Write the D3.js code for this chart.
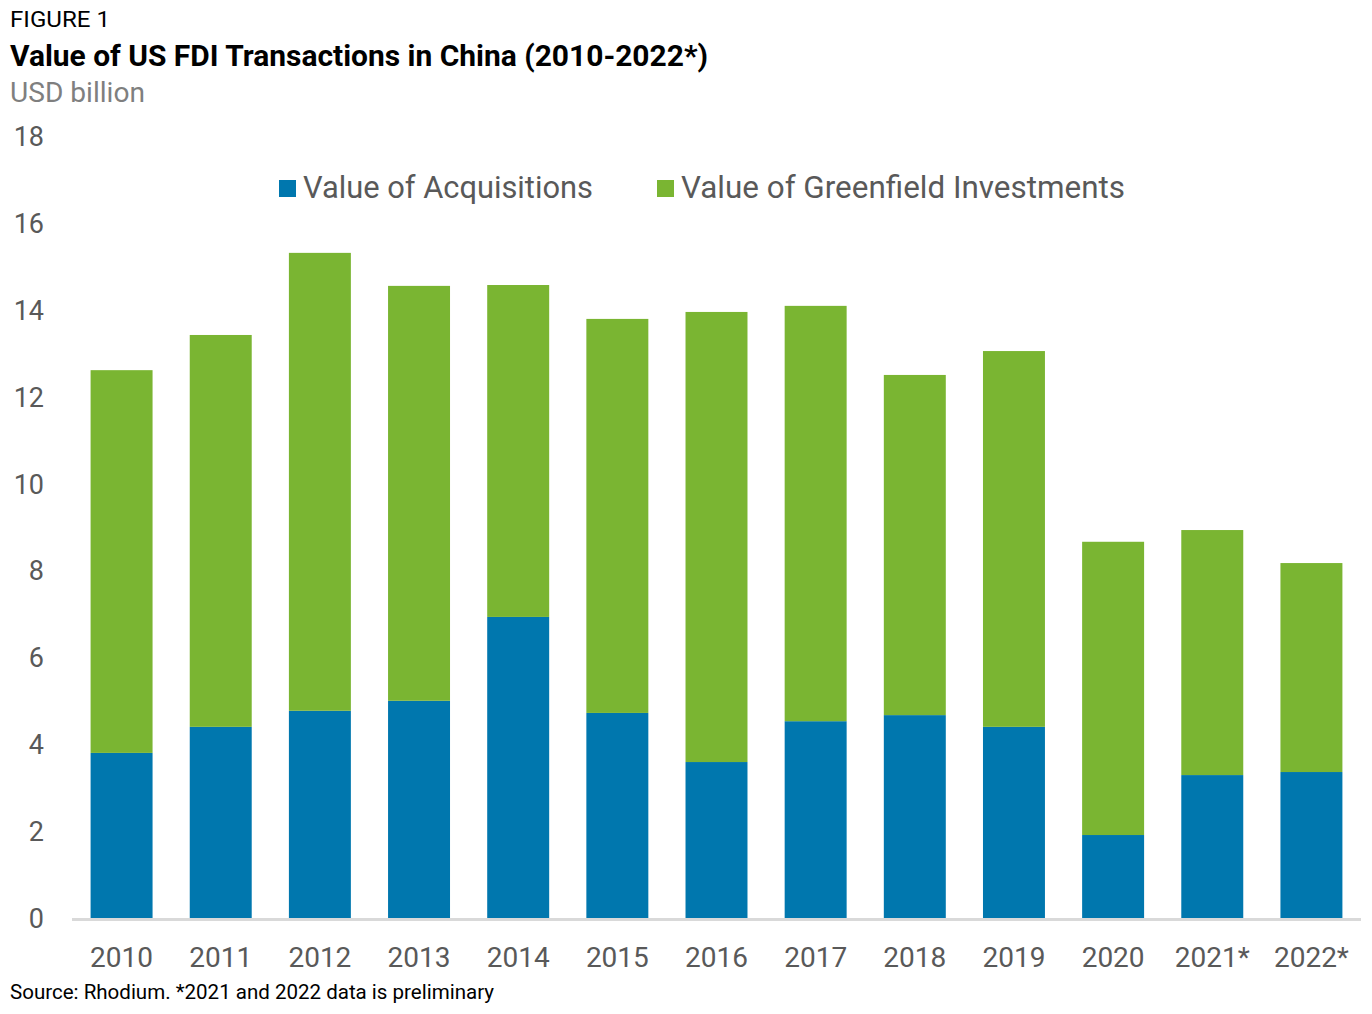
<!DOCTYPE html>
<html><head><meta charset="utf-8">
<script src="https://cdn.jsdelivr.net/npm/d3@7"></script>
<style>body{margin:0;background:#fff}svg{display:block}text{font-family:Roboto,"Noto Sans",sans-serif}</style>
</head><body>
<script>
const years = ["2010","2011","2012","2013","2014","2015","2016","2017","2018","2019","2020","2021*","2022*"];
const acquisitions = [3.80,4.40,4.77,5.00,6.93,4.72,3.59,4.53,4.67,4.40,1.91,3.29,3.36];
const greenfield = [8.81,9.02,10.54,9.55,7.64,9.07,10.36,9.56,7.83,8.65,6.75,5.64,4.81];
const seriesNames = ["Value of Acquisitions","Value of Greenfield Investments"];
const colors = ["#0077AE","#7AB532"];
const yTicks = [0,2,4,6,8,10,12,14,16,18];

const W=1372,H=1014;
const svg=d3.select("body").append("svg").attr("width",W).attr("height",H);

const x=d3.scaleBand().domain(years).range([72,1361]).paddingInner(0.375).paddingOuter(0.1875);
const y=d3.scaleLinear().domain([0,18]).range([918,136]);

const rows=years.map((yr,i)=>({year:yr,acq:acquisitions[i],green:greenfield[i]}));
const stack=d3.stack().keys(["acq","green"])(rows);

svg.append("g").selectAll("g").data(stack).join("g").attr("fill",(d,i)=>colors[i])
 .selectAll("rect").data(d=>d).join("rect")
 .attr("x",d=>x(d.data.year)).attr("width",x.bandwidth())
 .attr("y",d=>y(d[1])).attr("height",d=>y(d[0])-y(d[1]));

// x axis line
svg.append("line").attr("x1",72).attr("x2",1361).attr("y1",y(0)+1.5).attr("y2",y(0)+1.5)
 .attr("stroke","#d9d9d9").attr("stroke-width",3);

// y axis labels
const ya=d3.axisLeft(y).tickValues(yTicks).tickSize(0).tickPadding(0);
const yg=svg.append("g").attr("transform","translate(44,0)").call(ya);
yg.select(".domain").remove();
yg.selectAll("text").attr("font-size",27).attr("fill","#595959").attr("font-family","Roboto").attr("dy","0.35em");

// x axis labels
const xa=d3.axisBottom(x).tickSize(0).tickPadding(0);
const xg=svg.append("g").attr("transform","translate(0,957)").call(xa);
xg.select(".domain").remove();
xg.selectAll("text").attr("font-size",28).attr("fill","#595959").attr("font-family","Roboto").attr("dy","0.35em");

// titles
svg.append("text").attr("x",10).attr("y",27).attr("font-size",22).attr("fill","#000")
 .attr("textLength",100).attr("lengthAdjust","spacingAndGlyphs").text("FIGURE 1");
svg.append("text").attr("x",10).attr("y",66).attr("font-size",30).attr("font-weight","bold").attr("fill","#000")
 .attr("textLength",698).attr("lengthAdjust","spacingAndGlyphs").text("Value of US FDI Transactions in China (2010-2022*)");
svg.append("text").attr("x",10).attr("y",102).attr("font-size",27).attr("fill","#7f7f7f")
 .attr("textLength",135).attr("lengthAdjust","spacingAndGlyphs").text("USD billion");

// legend
const legX=[279,657];
const legLen=[290,444];
seriesNames.forEach((n,i)=>{
  svg.append("rect").attr("x",legX[i]).attr("y",180).attr("width",17).attr("height",17).attr("fill",colors[i]);
  svg.append("text").attr("x",legX[i]+24).attr("y",198).attr("font-size",31).attr("fill","#595959")
   .attr("textLength",legLen[i]).attr("lengthAdjust","spacingAndGlyphs").text(n);
});

svg.append("text").attr("x",10).attr("y",999).attr("font-size",20).attr("fill","#000")
 .attr("textLength",484).attr("lengthAdjust","spacingAndGlyphs")
 .text("Source: Rhodium. *2021 and 2022 data is preliminary");
</script>
</body></html>
